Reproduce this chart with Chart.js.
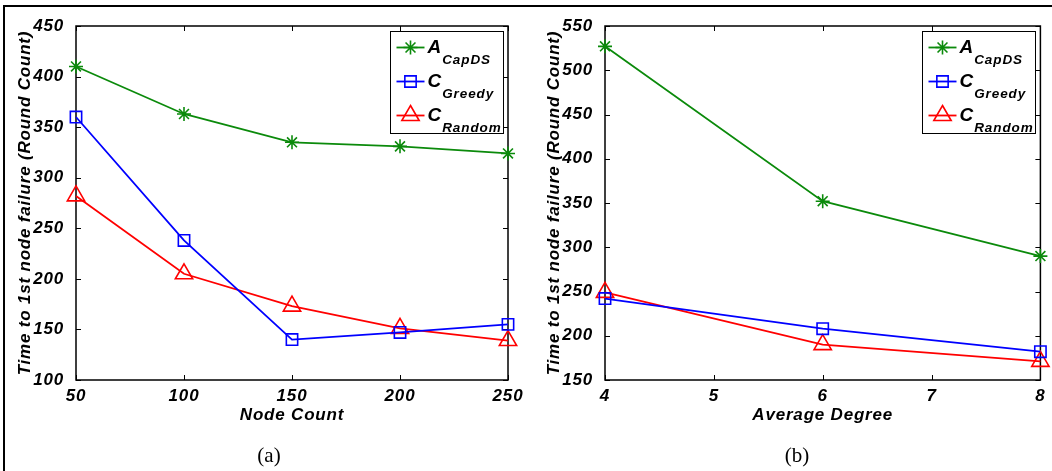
<!DOCTYPE html>
<html>
<head>
<meta charset="utf-8">
<script src="https://cdn.jsdelivr.net/npm/chart.js@4.4.0/dist/chart.umd.min.js"></script>
<style>
body { margin: 0; width: 1052px; height: 471px; background: #fff; position: relative; overflow: hidden; }
#frame { position: absolute; left: 3px; top: 5px; right: 0; bottom: 0; border-left: 2px solid #000; border-top: 2px solid #000; }
canvas { position: absolute; top: 0; }
#chartA { left: 0; }
#chartB { left: 529px; }
.cap { position: absolute; top: 443px; font-family: "Liberation Serif", serif; font-size: 21px; transform: translateX(-50%); }
</style>
</head>
<body>
<div id="frame"></div>
<canvas id="chartA" width="528" height="471"></canvas>
<canvas id="chartB" width="523" height="471"></canvas>
<div class="cap" style="left:269px">(a)</div>
<div class="cap" style="left:797px">(b)</div>
<script>
var nodeCounts = [50, 100, 150, 200, 250];
var capdsA = [410, 363, 335, 331, 324];
var greedyA = [360, 238, 140, 147, 155];
var randomA = [282, 205, 173, 151, 139];

var avgDegrees = [4, 6, 8];
var capdsB = [527, 352, 290];
var greedyB = [242, 208, 182];
var randomB = [249, 190, 171];

var seriesMain = ["A", "C", "C"];
var seriesSub = ["CapDS", "Greedy", "Random"];
var yTitle = "Time to 1st node failure (Round Count)";

var lineColors = ["#0b8a0b", "#0000ff", "#ff0000"];
var markers = ["star", "rect", "triangle"];
var markerSizes = [7, 8, 10];
var FONT = "'Liberation Sans', Arial, sans-serif";

function points(xs, ys) {
    return xs.map(function(x, i) { return { x: x, y: ys[i] }; });
}

function makeSets(xs, lists) {
    return lists.map(function(ys, i) {
        return {
            label: seriesMain[i] + seriesSub[i],
            data: points(xs, ys),
            borderColor: lineColors[i],
            backgroundColor: "rgba(0,0,0,0)",
            borderWidth: 1.8,
            pointStyle: markers[i],
            pointRadius: markerSizes[i],
            pointBorderWidth: 1.6,
            pointBackgroundColor: "rgba(0,0,0,0)",
            pointBorderColor: lineColors[i],
            tension: 0,
            clip: false
        };
    });
}

// spacing like the matlab text
var spacing = {
    id: "spacing",
    beforeDraw: function(chart) { chart.ctx.letterSpacing = "0.8px"; }
};

// box around the plot with ticks pointing inward on all four sides
var boxTicks = {
    id: "boxTicks",
    beforeDatasetsDraw: function(chart) {
        var ctx = chart.ctx, a = chart.chartArea;
        var xs = chart.scales.x, ys = chart.scales.y;
        ctx.save();
        ctx.strokeStyle = "#000";
        ctx.lineWidth = 1;
        ctx.beginPath();
        xs.ticks.forEach(function(t) {
            var px = Math.round(xs.getPixelForValue(t.value)) + 0.5;
            ctx.moveTo(px, a.bottom); ctx.lineTo(px, a.bottom - 5);
            ctx.moveTo(px, a.top); ctx.lineTo(px, a.top + 5);
        });
        ys.ticks.forEach(function(t) {
            var py = Math.round(ys.getPixelForValue(t.value)) + 0.5;
            ctx.moveTo(a.left, py); ctx.lineTo(a.left + 5, py);
            ctx.moveTo(a.right, py); ctx.lineTo(a.right - 5, py);
        });
        ctx.stroke();
        ctx.lineWidth = 1.5;
        ctx.strokeRect(a.left, a.top, a.right - a.left, a.bottom - a.top);
        ctx.restore();
    }
};

// legend with subscripts
var subLegend = {
    id: "subLegend",
    afterDatasetsDraw: function(chart) {
        var ctx = chart.ctx, a = chart.chartArea;
        var bx = Math.round(a.right - 118) + 0.5, by = Math.round(a.top + 5) + 0.5;
        var bw = 113, bh = 102;
        ctx.save();
        ctx.fillStyle = "#fff";
        ctx.fillRect(bx, by, bw, bh);
        ctx.strokeStyle = "#000";
        ctx.lineWidth = 1;
        ctx.strokeRect(bx, by, bw, bh);
        chart.data.datasets.forEach(function(ds, i) {
            var y = by + 16 + i * 34;
            ctx.strokeStyle = ds.borderColor;
            ctx.lineWidth = 1.8;
            ctx.beginPath();
            ctx.moveTo(bx + 6, y);
            ctx.lineTo(bx + 34, y);
            ctx.stroke();
            ctx.fillStyle = "rgba(0,0,0,0)";
            ctx.lineWidth = ds.pointBorderWidth;
            Chart.helpers.drawPoint(ctx, { pointStyle: ds.pointStyle, radius: ds.pointRadius, borderWidth: ds.pointBorderWidth, rotation: 0 }, bx + 20, y);
            ctx.fillStyle = "#000";
            ctx.textAlign = "left";
            ctx.textBaseline = "alphabetic";
            ctx.letterSpacing = "0px";
            ctx.font = "italic bold 19px " + FONT;
            ctx.fillText(seriesMain[i], bx + 37, y + 5);
            var w = ctx.measureText(seriesMain[i]).width;
            ctx.letterSpacing = "0.9px";
            ctx.font = "italic bold 13.5px " + FONT;
            ctx.fillText(seriesSub[i], bx + 38 + w, y + 16);
        });
        ctx.restore();
    }
};

function makeChart(id, xs, lists, xMin, xMax, xStep, yMin, yMax, yStep, xTitle, padRight) {
    var tickFont = { family: FONT, size: 17, style: "italic", weight: "bold" };
    return new Chart(id, {
        type: "line",
        data: { datasets: makeSets(xs, lists) },
        options: {
            responsive: false,
            animation: false,
            layout: { padding: { top: 26, right: padRight, left: 0, bottom: 0 } },
            plugins: { legend: { display: false }, tooltip: { enabled: false } },
            scales: {
                x: {
                    type: "linear", min: xMin, max: xMax,
                    grid: { display: false }, border: { display: false },
                    ticks: { stepSize: xStep, color: "#000", font: tickFont, padding: -2, maxRotation: 0 },
                    title: { display: true, text: xTitle, color: "#000", font: tickFont, padding: { top: 0, bottom: 45 } },
                    afterFit: function(s) { s.height = 91; }
                },
                y: {
                    min: yMin, max: yMax,
                    grid: { display: false }, border: { display: false },
                    ticks: { stepSize: yStep, color: "#000", font: tickFont, padding: 4 },
                    title: { display: true, text: yTitle, color: "#000", font: tickFont, padding: { top: 15, bottom: 0 } },
                    afterFit: function(s) { s.width = 76; }
                }
            }
        },
        plugins: [spacing, boxTicks, subLegend]
    });
}

makeChart("chartA", nodeCounts, [capdsA, greedyA, randomA], 50, 250, 50, 100, 450, 50, "Node Count", 20);
makeChart("chartB", avgDegrees, [capdsB, greedyB, randomB], 4, 8, 1, 150, 550, 50, "Average Degree", 11);
</script>
</body>
</html>
